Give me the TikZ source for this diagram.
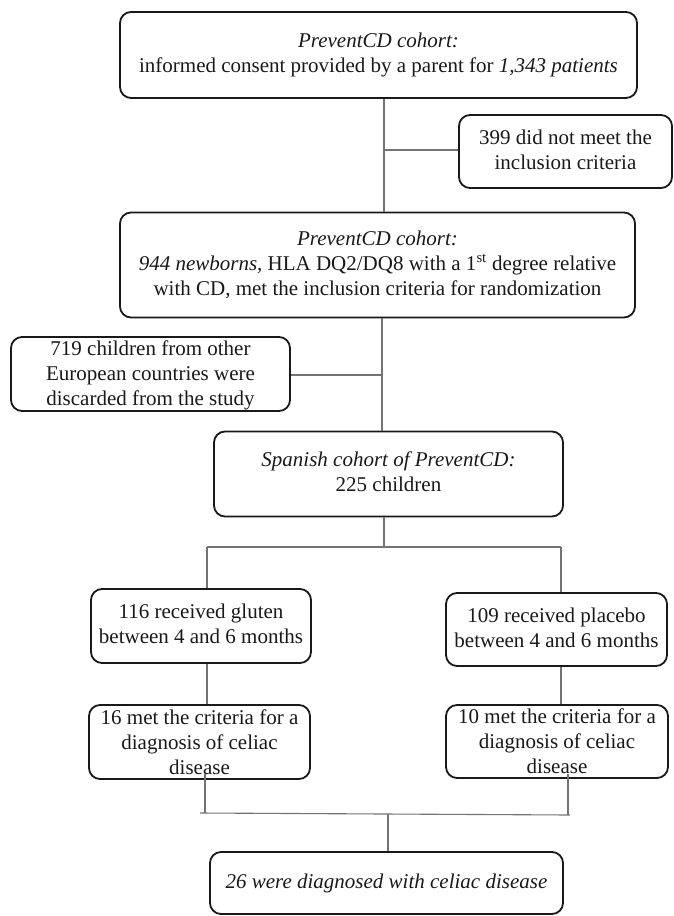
\documentclass[tikz,border=0pt]{standalone}
\usepackage{fontspec}
\setmainfont{Liberation Serif}
\newcommand{\bt}[1]{\smash{\raisebox{-0.25em}{\begin{tabular}[c]{@{}c@{}}#1\end{tabular}}}}
\begin{document}
\begin{tikzpicture}[x=1pt,y=-1pt,
  box/.style={draw=black!90, line width=1.8pt, rounded corners=11pt, fill=white,
    inner sep=0pt, font=\fontsize{21}{25}\selectfont, text=black!90},
  conn/.style={draw=black!55, line width=1.1pt}]
\useasboundingbox (0,0) rectangle (673,916);
% boxes
\node[box, minimum width=517pt, minimum height=86pt] (b1) at (378.5,55)
  {\bt{\textit{PreventCD cohort:}\\ informed consent provided by a parent for \textit{1,343 patients}}};
\node[box, minimum width=213pt, minimum height=73pt] (b399) at (565.5,151.5)
  {\bt{399 did not meet the\\ inclusion criteria}};
\node[box, minimum width=515pt, minimum height=105pt] (b2) at (377.5,265)
  {\bt{\textit{PreventCD cohort:}\\ \textit{944 newborns,} HLA DQ2/DQ8 with a 1\textsuperscript{st} degree relative\\ with CD, met the inclusion criteria for randomization}};
\node[box, minimum width=279pt, minimum height=74pt] (b719) at (150.5,374)
  {\raisebox{-2pt}{\bt{719 children from other\\ European countries were\\ discarded from the study}}};
\node[box, minimum width=349pt, minimum height=85pt] (b3) at (388.5,474)
  {\bt{\textit{Spanish cohort of PreventCD:}\\ 225 children}};
\node[box, minimum width=220pt, minimum height=74pt] (bg) at (201,626)
  {\bt{116 received gluten\\ between 4 and 6 months}};
\node[box, minimum width=221pt, minimum height=73pt] (bp) at (556.5,629.5)
  {\bt{109 received placebo\\ between 4 and 6 months}};
\node[box, minimum width=221pt, minimum height=74pt] (b16) at (199.5,742)
  {\raisebox{-4pt}{\bt{16 met the criteria for a\\ diagnosis of celiac\\ disease}}};
\node[box, minimum width=222pt, minimum height=73pt] (b10) at (557,741.5)
  {\raisebox{-4pt}{\bt{10 met the criteria for a\\ diagnosis of celiac\\ disease}}};
\node[box, minimum width=353pt, minimum height=62pt] (bf) at (386.5,883)
  {\bt{\textit{26 were diagnosed with celiac disease}}};
% junction coordinates
\coordinate (j1) at (384,150);
\coordinate (j2) at (382,375);
\coordinate (j3) at (384,547);
\coordinate (jl) at (207,547);
\coordinate (jr) at (561,547);
\coordinate (kl) at (205,813);
\coordinate (kr) at (568,815);
\coordinate (kc) at (388,814);
% connectors
\draw[conn] (b1.south -| j1) -- (b2.north -| j1);
\draw[conn] (j1) -- (b399.west |- j1);
\draw[conn] (b2.south -| j2) -- (b3.north -| j2);
\draw[conn] (j2) -- (b719.east |- j2);
\draw[conn] (b3.south -| j3) -- (j3);
\draw[conn] (jl) -- (jr);
\draw[conn] (jl) -- (bg.north -| jl);
\draw[conn] (jr) -- (bp.north -| jr);
\draw[conn] (bg.south -| jl) -- (b16.north -| jl);
\draw[conn] (bp.south -| jr) -- (b10.north -| jr);
\draw[conn] ([yshift=6pt]b16.south -| kl) -- (kl);
\draw[conn] ([yshift=5pt]b10.south -| kr) -- (kr);
\draw[conn] ([xshift=-5pt]kl) -- ([xshift=2pt]kr);
\draw[conn] (kc) -- (bf.north -| kc);
\end{tikzpicture}
\end{document}
